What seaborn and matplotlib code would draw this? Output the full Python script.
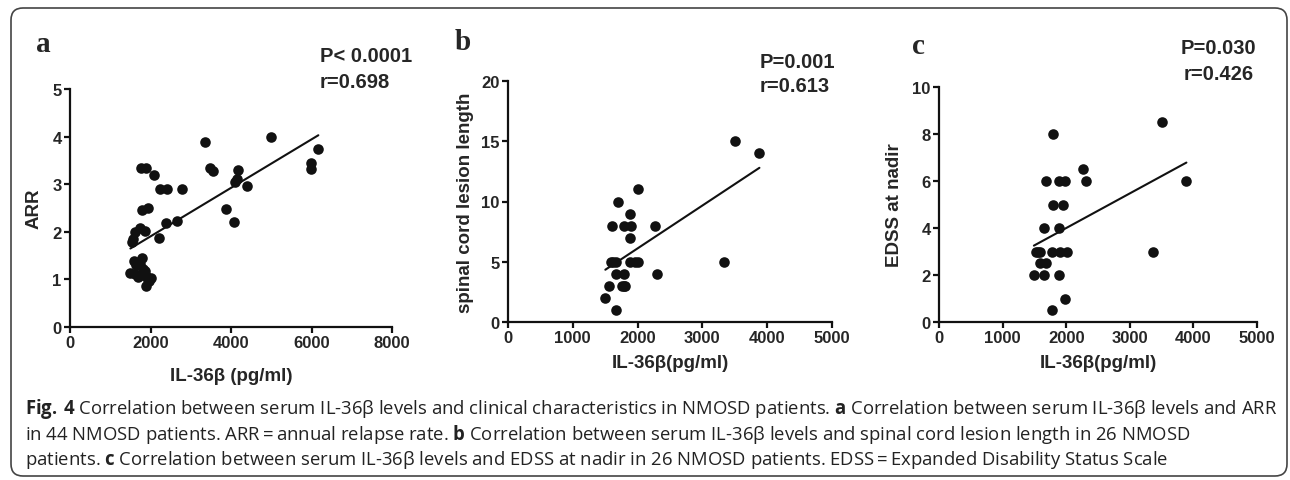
import numpy as np
import pandas as pd
import seaborn as sns
import matplotlib.pyplot as plt
from matplotlib.patches import FancyBboxPatch
from matplotlib.transforms import IdentityTransform

# panel a: ARR vs serum IL-36b (44 patients)
arr_il36 = [1760, 1890, 2090, 2240, 2420, 2790, 3350, 3480, 3560, 4990,
            6170, 5980, 5980, 4180, 4140, 4090, 4390, 3870, 4080, 2650,
            2380, 2200, 1780, 1950, 1740, 1860, 1615, 1700, 1573, 1532,
            1780, 1590, 1740, 1500, 1620, 1820, 1870, 1900, 2000, 1960,
            1880, 1650, 1760, 1950]
arr_vals = [3.33, 3.33, 3.20, 2.90, 2.90, 2.90, 3.88, 3.33, 3.28, 4.00,
            3.75, 3.45, 3.32, 3.30, 3.10, 3.04, 2.96, 2.47, 2.20, 2.22,
            2.18, 1.88, 2.45, 2.50, 2.09, 2.02, 1.99, 1.05, 1.85, 1.78,
            1.46, 1.38, 1.32, 1.13, 1.12, 1.22, 1.18, 1.08, 1.02, 0.96,
            0.87, 1.30, 1.10, 0.98]

# panel b: spinal cord lesion length (26 patients)
lesion_il36 = [3500, 3880, 3340, 2000, 1700, 1890, 1600, 1785, 1903, 2263,
               1888, 1595, 1672, 1888, 1955, 2006, 1620, 1661, 1785, 2305,
               1553, 1759, 1811, 1790, 1502, 1672]
lesion_vals = [15, 14, 5, 11, 10, 9, 8, 8, 8, 8,
               7, 5, 5, 5, 5, 5, 5, 4, 4, 4,
               3, 3, 3, 3, 2, 1]

# panel c: EDSS at nadir (26 patients)
edss_il36 = [3500, 3890, 3360, 1800, 2270, 2310, 1690, 1885, 1980, 1785,
             1953, 1654, 1890, 1524, 1586, 1560, 1770, 1900, 2005, 1586,
             1680, 1492, 1654, 1890, 1980, 1770]
edss_vals = [8.5, 6, 3, 8, 6.5, 6, 6, 6, 6, 5,
             5, 4, 4, 3, 3, 3, 3, 3, 3, 2.5,
             2.5, 2, 2, 2, 1, 0.5]

letters = ['a', 'b', 'c']
stats = [['P< 0.0001', 'r=0.698'], ['P=0.001', 'r=0.613'], ['P=0.030', 'r=0.426']]
ylabels = ['ARR', 'spinal cord lesion length', 'EDSS at nadir']
xlabels = ['IL-36\u03b2 (pg/ml)', 'IL-36\u03b2(pg/ml)', 'IL-36\u03b2(pg/ml)']
xticks = [np.arange(0, 8001, 2000), np.arange(0, 5001, 1000), np.arange(0, 5001, 1000)]
yticks = [np.arange(0, 6, 1), np.arange(0, 21, 5), np.arange(0, 11, 2)]

caption = [
    '$\\mathbf{Fig.\\,4}$ Correlation between serum IL-36\u03b2 levels and clinical characteristics in NMOSD patients. $\\mathbf{a}$ Correlation between serum IL-36\u03b2 levels and ARR',
    'in 44 NMOSD patients. ARR\u2009=\u2009annual relapse rate. $\\mathbf{b}$ Correlation between serum IL-36\u03b2 levels and spinal cord lesion length in 26 NMOSD',
    'patients. $\\mathbf{c}$ Correlation between serum IL-36\u03b2 levels and EDSS at nadir in 26 NMOSD patients. EDSS\u2009=\u2009Expanded Disability Status Scale',
]
cap_fonts = ['Open Sans', 'DejaVu Sans']

sns.set_style('ticks')
plt.rcParams['font.family'] = ['Liberation Sans', 'DejaVu Sans']
plt.rcParams['mathtext.fontset'] = 'custom'
plt.rcParams['mathtext.rm'] = 'Open Sans'
plt.rcParams['mathtext.bf'] = 'Open Sans:bold'

W, H = 1290, 481
fig = plt.figure(figsize=(W / 100, H / 100), dpi=100)

# axes boxes in pixels: left, right, top, bottom
boxes = [(70, 392, 90, 328), (508, 832, 82, 323), (939, 1257, 88, 323)]
frames = [
    pd.DataFrame({'il36': arr_il36, 'val': arr_vals}),
    pd.DataFrame({'il36': lesion_il36, 'val': lesion_vals}),
    pd.DataFrame({'il36': edss_il36, 'val': edss_vals}),
]
xpads = [12, 6, 6]
ypads = [7, 5, 7]

for i, (df, (l, r, t, b)) in enumerate(zip(frames, boxes)):
    ax = fig.add_axes([l / W, 1 - b / H, (r - l) / W, (b - t) / H])
    sns.regplot(data=df, x='il36', y='val', ax=ax, ci=None, truncate=True,
                scatter_kws={'s': 58, 'color': '#111111', 'alpha': 1,
                             'linewidths': 0, 'clip_on': False},
                line_kws={'color': '#111111', 'lw': 1.5})
    ax.set_xlim(xticks[i][0], xticks[i][-1])
    ax.set_ylim(yticks[i][0], yticks[i][-1])
    ax.set_xticks(xticks[i])
    ax.set_yticks(yticks[i])
    sns.despine(ax=ax)
    for s in ['left', 'bottom']:
        ax.spines[s].set_linewidth(1.6)
        ax.spines[s].set_color('#111111')
    ax.tick_params(width=1.6, length=4, color='#111111', labelsize=12, pad=2)
    for lab in ax.get_xticklabels() + ax.get_yticklabels():
        lab.set_fontweight('bold')
    ax.set_xlabel(xlabels[i], fontsize=13.5, fontweight='bold', labelpad=xpads[i])
    ax.set_ylabel(ylabels[i], fontsize=13.5, fontweight='bold', labelpad=ypads[i])

# panel letters and stats
letter_pos = [(43, 45), (463, 43), (918, 47)]
for (x, y), let in zip(letter_pos, letters):
    fig.text(x / W, 1 - y / H, let, fontsize=21, fontweight='bold',
             family=['Liberation Serif'], ha='center', va='center')

stat_pos = [[(320, 57), (320, 83)], [(760, 62), (760, 87)], [(1181, 48), (1184, 75)]]
for pos, txt in zip(stat_pos, stats):
    for (x, y), s in zip(pos, txt):
        fig.text(x / W, 1 - y / H, s, fontsize=14.5, fontweight='bold',
                 ha='left', va='center')

# caption, sized so the first line fills the box width
renderer = fig.canvas.get_renderer()
probe = fig.text(0, 0, caption[0], fontsize=12, family=cap_fonts)
wpx = probe.get_window_extent(renderer).width
probe.remove()
cap_size = 12 * (1277 - 25) / wpx
for y, line in zip([409, 435, 460], caption):
    fig.text(25 / W, 1 - y / H, line, fontsize=cap_size, color='#222222',
             family=cap_fonts, ha='left', va='center')

border = FancyBboxPatch((11, 4), 1276, 468, boxstyle='round,pad=0,rounding_size=12',
                        transform=IdentityTransform(), fill=False,
                        edgecolor='#444444', lw=1.2)
fig.add_artist(border)

fig.savefig('out.png', dpi=100)
